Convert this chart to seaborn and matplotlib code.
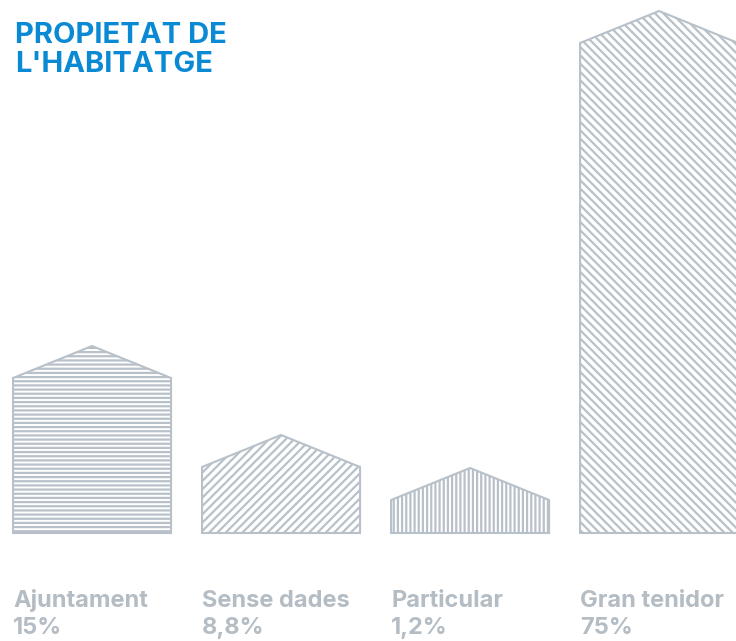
import matplotlib
matplotlib.use("Agg")
import matplotlib.pyplot as plt
from matplotlib.patches import Polygon
import seaborn as sns

# categories and the labels printed under each house
categories = ["Ajuntament", "Sense dades", "Particular", "Gran tenidor"]
shares = ["15%", "8,8%", "1,2%", "75%"]
# wall heights as drawn in the original graphic (not proportional to the shares)
heights = [155, 66, 33, 490]
hatches = ["----", "////", "||||", "\\\\\\\\"]

grey = "#b8c1c9"
label_grey = "#b4bcc4"
blue = "#0a8ad4"
roof = 32

sns.set_theme(style="white")
plt.rcParams["font.family"] = ["Inter", "DejaVu Sans"]
plt.rcParams["hatch.linewidth"] = 1.6

fig = plt.figure(figsize=(7.36, 6.41), dpi=100)
ax = fig.add_axes([0, 0, 1, 1])
sns.barplot(x=categories, y=heights, color="white", saturation=1,
            edgecolor=grey, linewidth=0, width=0.836, ax=ax)

# roofs + outline of each house
for patch, hatch, name, share in zip(ax.patches, hatches, categories, shares):
    patch.set_hatch(hatch)
    x0, w, h = patch.get_x(), patch.get_width(), patch.get_height()
    top = Polygon([(x0, h), (x0 + w / 2, h + roof), (x0 + w, h)], closed=True,
                  facecolor="white", edgecolor=grey, linewidth=0, hatch=hatch)
    ax.add_patch(top)
    ax.plot([x0, x0, x0 + w / 2, x0 + w, x0 + w, x0],
            [0, h, h + roof, h, 0, 0], color=grey, lw=1.5,
            solid_joinstyle="miter")
    ax.text(x0, -74, name, ha="left", va="baseline", fontsize=17,
            fontweight="bold", color=label_grey)
    ax.text(x0, -101, share, ha="left", va="baseline", fontsize=17,
            fontweight="bold", color=label_grey)

ax.set_xlim(-0.487, 3.407)
ax.set_ylim(-108, 533)
ax.axis("off")

fig.text(15 / 736, 1 - 22 / 641, "PROPIETAT DE\nL'HABITATGE", ha="left", va="top",
         fontsize=21, fontweight="bold", color=blue, linespacing=1.08)

fig.savefig("out.png", dpi=100)
